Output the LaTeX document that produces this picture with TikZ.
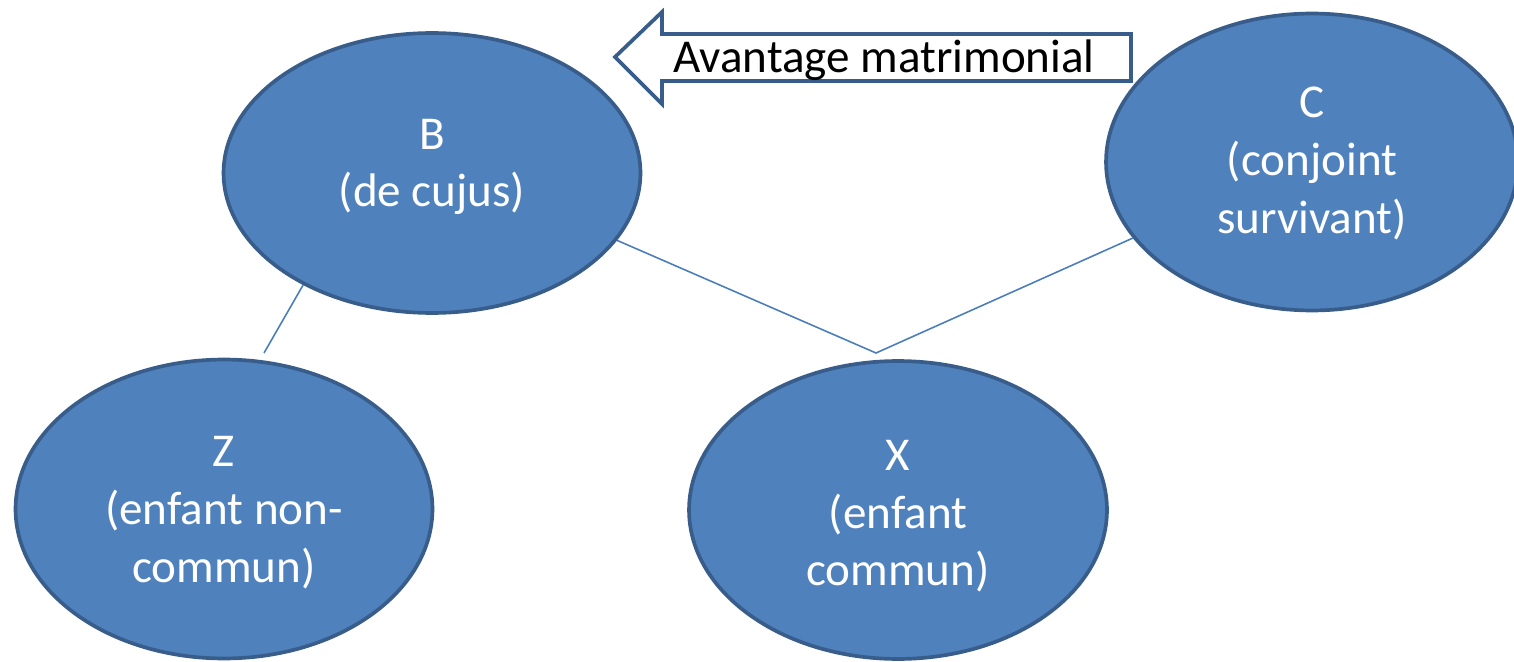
\documentclass[tikz,border=0pt]{standalone}
\usepackage{fontspec}
\setmainfont{Carlito}
\usetikzlibrary{shapes.geometric}
\definecolor{fillblue}{HTML}{4F81BD}
\definecolor{edgeblue}{HTML}{385D8A}
\definecolor{lineblue}{HTML}{4A7EBB}
% invisible struts to place the lines inside the ellipses
\newcommand{\uptop}[1]{\rule{0pt}{#1}}
\newcommand{\downbot}[1]{\rule[-#1]{0pt}{#1}}
\tikzset{%
    heir/.style={
      ellipse,
      draw=edgeblue,
      fill=fillblue,
      line width=2.1pt,
      inner sep=0pt,
      text=white,
      align=center,
      font=\fontsize{26.8}{33}\selectfont
    },
    tie/.style={
      draw=lineblue,
      line width=0.9pt
    },
    gift/.style={
      draw=edgeblue,
      fill=white,
      line width=2.1pt,
      line join=miter
    }
  }

\begin{document}
\begin{tikzpicture}[x=0.02cm, y=-0.02cm]
      \useasboundingbox (0,0) rectangle (1514,662);

      \node [heir, minimum width=8.34cm, minimum height=5.6cm] (B) at (432,173)
        {\uptop{0.9cm}B\\(de cujus)\downbot{0.7cm}};
      \node [heir, minimum width=8.24cm, minimum height=5.94cm] (C) at (1312,162)
        {\uptop{1.0cm}C\\(conjoint\\survivant)\downbot{0.46cm}};
      \node [heir, minimum width=8.34cm, minimum height=5.98cm] (Z) at (224,509)
        {\uptop{1.1cm}Z\\(enfant non-\\commun)\downbot{0.48cm}};
      \node [heir, minimum width=8.36cm, minimum height=5.96cm] (X) at (898,510)
        {\uptop{1.2cm}X\\(enfant\\commun)\downbot{0.48cm}};

      \coordinate (zt) at (264,353);
      \coordinate (apex) at (876,353);

      \draw [tie] (B.221) -- (zt);
      \draw [tie] (B.340) -- (apex) -- (C.203);

      % block arrow towards B
      \draw [gift] (615,57) -- (662,12) -- (662,34) -- (1131,34) -- (1131,81)
        -- (662,81) -- (662,104) -- cycle;
      \node [anchor=base, inner sep=0pt, font=\fontsize{26.8}{33}\selectfont] (avmat) at (884,73) {Avantage matrimonial};
\end{tikzpicture}
\end{document}
